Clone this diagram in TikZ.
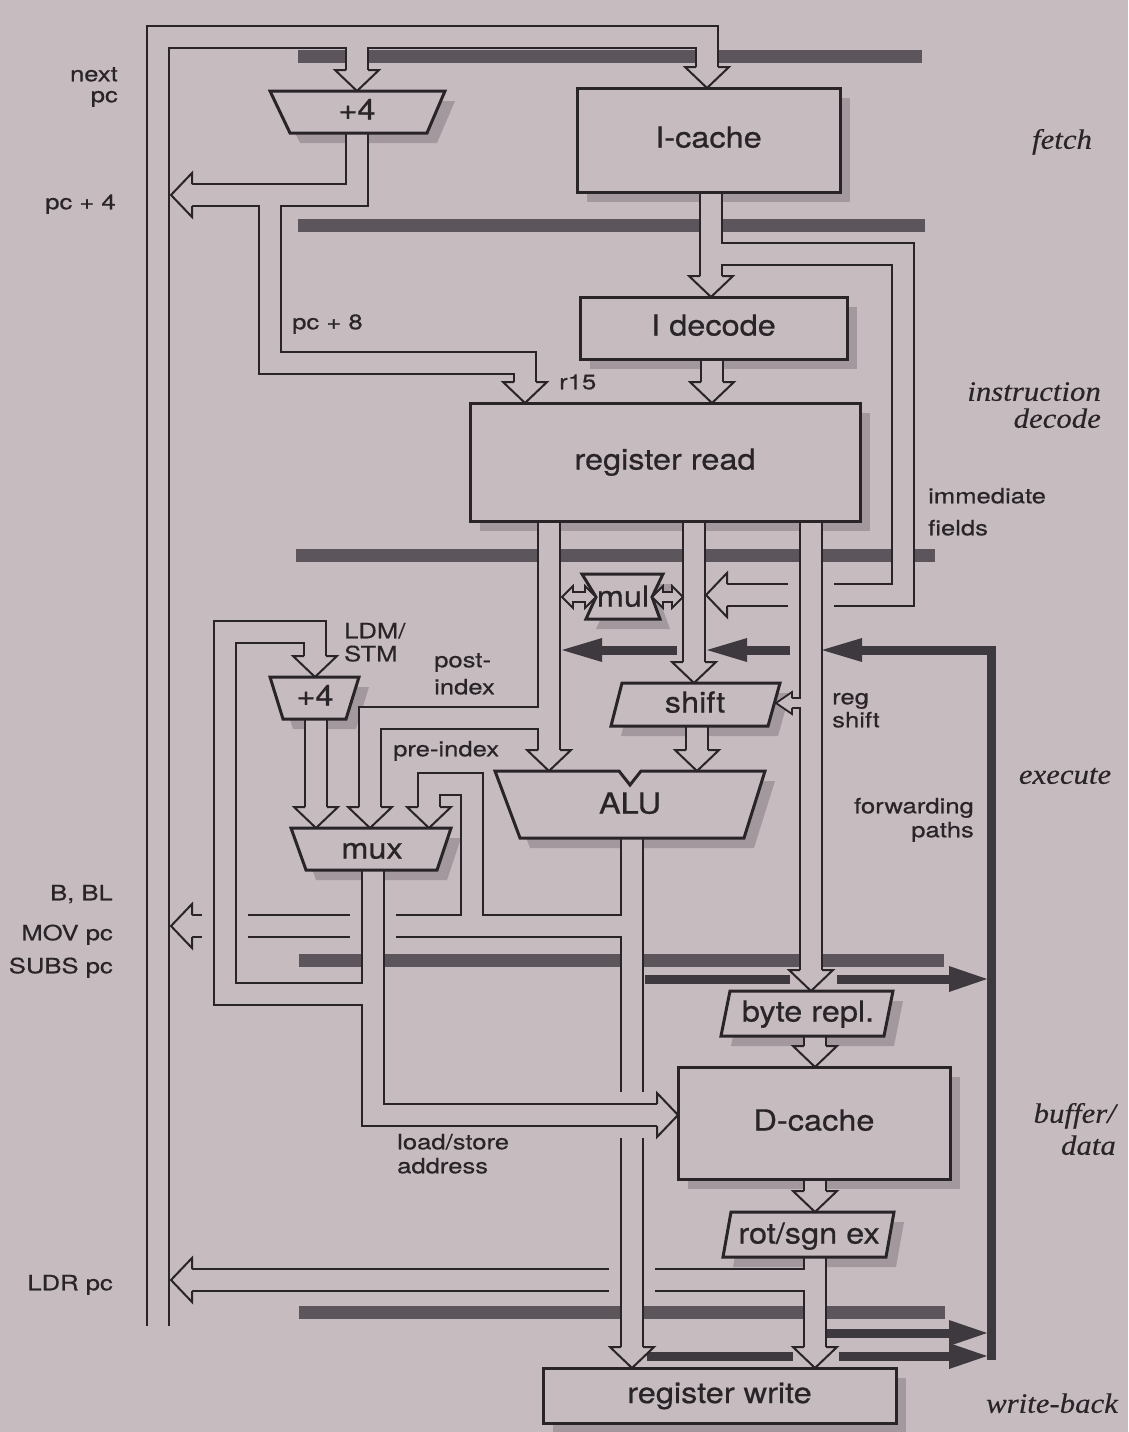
\documentclass[tikz,border=0pt]{standalone}
\usepackage{fontspec}
\newfontfamily\labfam{TeX Gyre Heros}[FakeStretch=1.22,FakeBold=0.5]
\newfontfamily\boxfam{TeX Gyre Heros}[FakeStretch=1.12,FakeBold=0.6]
\newfontfamily\stagefam{Liberation Serif}[FakeStretch=1.1,FakeBold=0.3]
\definecolor{paper}{RGB}{198,188,192}
\definecolor{ink}{RGB}{40,36,40}
\definecolor{barc}{RGB}{92,86,92}
\definecolor{fwd}{RGB}{62,57,62}
\definecolor{shadc}{RGB}{162,152,158}
\pgfdeclarelayer{back}
\pgfdeclarelayer{shad}
\pgfdeclarelayer{buses}
\pgfsetlayers{back,shad,buses,main}
\tikzset{
 busO/.style={draw=ink, line width=24pt, line join=miter, line cap=butt},
 busI/.style={draw=paper, line width=20pt, line join=miter, line cap=butt},
 halo/.style={draw=paper, line width=46pt},
 head/.style={fill=paper, draw=ink, line width=2pt, line join=miter},
 shp/.style={fill=paper, draw=ink, line width=3pt, line join=miter},
 boxtxt/.style={inner sep=0pt, font=\boxfam\fontsize{29}{30}\selectfont, text=ink, text height=21pt, text depth=6pt},
 box/.style={shp, rectangle, boxtxt},
 lab/.style={inner sep=0pt, font=\labfam\fontsize{21}{22}\selectfont, text=ink, text height=15pt, text depth=4.5pt},
 stage/.style={inner sep=0pt, font=\stagefam\itshape\fontsize{28}{28}\selectfont, text=ink, text height=19pt, text depth=5.5pt},
 pbar/.style={draw=barc, line width=13pt},
 fw/.style={draw=fwd, line width=9pt, line join=miter},
}
\newcommand\mybus[1]{\draw[busO] #1; \draw[busI] #1;}
\newcommand\headD[2]{\filldraw[head, shift={(#1,#2)}] (-11,-21) -- (-22,-21) -- (0,0) -- (22,-21) -- (11,-21);}
\newcommand\headL[2]{\filldraw[head, shift={(#1,#2)}] (21,-11) -- (21,-22) -- (0,0) -- (21,22) -- (21,11);}
\newcommand\headR[2]{\filldraw[head, shift={(#1,#2)}] (-21,-11) -- (-21,-22) -- (0,0) -- (-21,22) -- (-21,11);}
\newcommand\fwL[2]{\fill[fwd, shift={(#1,#2)}] (0,0) -- (40,-12) -- (40,12) -- cycle;}
\newcommand\fwR[2]{\fill[fwd, shift={(#1,#2)}] (0,0) -- (-38,-13) -- (-38,13) -- cycle;}
\newcommand\myrbox[6]{%
 \begin{pgfonlayer}{shad}\fill[shadc] (#2+10,#3+10) rectangle (#4+10,#5+10);\end{pgfonlayer}
 \node[box, minimum width={#4-#2}, minimum height={#5-#3}] (#1) at ({(#2+#4)/2},{(#3+#5)/2}) {#6};}
\newcommand\mypoly[5]{%
 \begin{pgfonlayer}{shad}\fill[shadc, shift={(10,10)}] #5 -- cycle;\end{pgfonlayer}
 \filldraw[shp] #5 -- cycle;
 \node[boxtxt] (#1) at (#2,#3) {#4};}
\begin{document}
\begin{tikzpicture}[x=1pt,y=-1pt]
\useasboundingbox (0,0) rectangle (1128,1432);
\begin{pgfonlayer}{back}
\fill[paper] (0,0) rectangle (1128,1432);
% pipeline registers
\draw[pbar] (298,56) -- (922,56);
\draw[pbar] (298,225) -- (925,225);
\draw[pbar] (296,555) -- (935,555);
\draw[pbar] (299,960) -- (944,960);
\draw[pbar] (299,1312) -- (945,1312);
% forwarding paths
\draw[fw] (991,1360) -- (991,650) -- (861,650);
\fwL{822}{650}
\draw[fw] (790,650) -- (746,650); \fwL{707}{650}
\draw[fw] (677,650) -- (601,650); \fwL{562}{650}
\draw[fw] (645,979) -- (790,979); \draw[fw] (837,979) -- (950,979); \fwR{987}{979}
\draw[fw] (827,1333) -- (950,1333); \fwR{987}{1333}
\draw[fw] (647,1356) -- (793,1356); \draw[fw] (839,1356) -- (950,1356); \fwR{987}{1356}
\end{pgfonlayer}

\begin{pgfonlayer}{buses}
% next pc
\mybus{(158,1326) -- (158,37) -- (707,37) -- (707,67) (357,37) -- (357,70)}
% pc+4 / pc+8
\mybus{(357,130) -- (357,195) -- (192,195) (270,195) -- (270,363) -- (525,363) -- (525,382)}
% I-cache out, immediate fields
\mybus{(711,190) -- (711,276) (711,254) -- (903,254) -- (903,595) -- (727,595)}
% I decode out
\mybus{(712,357) -- (712,382)}
% register read left + post-index
\mybus{(549,519) -- (549,750) (549,718) -- (370,718) -- (370,807)}
% register read middle
\mybus{(694,519) -- (694,662)}
% register read right + reg shift
\draw[halo] (811,578) -- (811,612);
\draw[busO] (811,519) -- (811,970);
\draw[draw=ink, line width=12pt] (811,703) -- (791,703);
\draw[busI] (811,519) -- (811,970);
\draw[draw=paper, line width=8pt] (811,703) -- (791,703);
% shift out
\mybus{(697,724) -- (697,750)}
% rot/sgn out + LDR pc
\mybus{(815,1255) -- (815,1347) (815,1280) -- (192,1280)}
% ALU out
\draw[halo] (632,1262) -- (632,1298);
\mybus{(632,836) -- (632,1347) (632,926) -- (192,926) (472,926) -- (472,784) -- (429,784) -- (429,807)}
% mux out + address loop
\draw[halo] (373,908) -- (373,944);
\draw[halo] (225,908) -- (225,944);
\draw[halo] (608,1115) -- (656,1115);
\mybus{(373,868) -- (373,1115) -- (657,1115) (373,994) -- (225,994) -- (225,632) -- (315,632) -- (315,656)}
% +4 (LDM) out
\mybus{(316,717) -- (316,807)}
% byte repl out, D-cache out
\mybus{(815,1034) -- (815,1046)}
\mybus{(815,1177) -- (815,1191)}
\end{pgfonlayer}

% units
\mypoly{incA}{357}{112}{+4}{(270,91) -- (445,91) -- (427,133) -- (290,133)}
\myrbox{icache}{577}{88}{840}{192}{I-cache}
\myrbox{idecode}{580}{297}{847}{359}{I decode}
\myrbox{regread}{470}{403}{860}{521}{register read}
\mypoly{mul}{623}{599}{mul}{(582,574) -- (663,574) -- (652,597) -- (660,619) -- (586,619) -- (596,597)}
\mypoly{shift}{695}{705}{shift}{(622,683) -- (780,683) -- (768,726) -- (611,726)}
\mypoly{alu}{630}{806}{ALU}{(495,771) -- (619,771) -- (630,785) -- (641,771) -- (765,771) -- (744,838) -- (520,838)}
\mypoly{incB}{315}{698}{+4}{(270,677) -- (359,677) -- (346,719) -- (283,719)}
\mypoly{mux}{372}{851}{mux}{(291,828) -- (451,828) -- (437,870) -- (306,870)}
\mypoly{byterepl}{808}{1014}{byte repl.}{(730,991) -- (893,991) -- (884,1036) -- (721,1036)}
\myrbox{dcache}{678}{1067}{950}{1179}{D-cache}
\mypoly{rotsgn}{809}{1236}{rot/sgn ex}{(731,1212) -- (894,1212) -- (886,1257) -- (723,1257)}
\myrbox{regwrite}{543}{1368}{896}{1423}{register write}

% arrow heads
\headD{707}{88} \headD{357}{91}
\headL{171}{195} \headD{525}{403}
\headD{711}{297} \headL{706}{595}
\headD{712}{403}
\headD{549}{771} \headD{370}{828}
\headD{694}{683}
\headD{811}{991}
\filldraw[head, line width=1.8pt] (792,698) -- (792,692) -- (776,703) -- (792,714) -- (792,708);
\headD{697}{771}
\headD{815}{1368} \headL{171}{1280}
\headD{632}{1368} \headL{171}{926} \headD{429}{828}
\headR{678}{1115} \headD{315}{677}
\headD{316}{828}
\headD{815}{1067}
\headD{815}{1212}
% mul double arrows
\filldraw[head, line width=1.8pt] (562,597) -- (573,586) -- (573,592) -- (585,592) -- (585,586) -- (596,597) -- (585,608) -- (585,602) -- (573,602) -- (573,608) -- cycle;
\filldraw[head, line width=1.8pt] (652,597) -- (663,586) -- (663,592) -- (672,592) -- (672,586) -- (683,597) -- (672,608) -- (672,602) -- (663,602) -- (663,608) -- cycle;

% labels
\node[lab, anchor=east] (lnext) at (118,76) {next};
\node[lab, anchor=east] (lpc) at (118,97) {pc};
\node[lab, anchor=east] (lpc4) at (116,204) {pc + 4};
\node[lab, anchor=west] (lpc8) at (292,324) {pc + 8};
\node[lab, anchor=west] (lr15) at (559,384) {r15};
\node[lab, anchor=west] (limm) at (928,498) {immediate};
\node[lab, anchor=west] (lfld) at (928,530) {fields};
\node[lab, anchor=west] (lldm) at (344,633) {LDM/};
\node[lab, anchor=west] (lstm) at (344,656) {STM};
\node[lab, anchor=west] (lpost) at (434,662) {post-};
\node[lab, anchor=west] (lindex) at (434,689) {index};
\node[lab, anchor=west] (lreg) at (832,699) {reg};
\node[lab, anchor=west] (lsh) at (832,722) {shift};
\node[lab, anchor=west] (lpre) at (393,751) {pre-index};
\node[lab, anchor=east] (lfwd) at (974,808) {forwarding};
\node[lab, anchor=east] (lpaths) at (974,832) {paths};
\node[lab, anchor=east] (lb) at (113,895) {B, BL};
\node[lab, anchor=east] (lmov) at (113,935) {MOV pc};
\node[lab, anchor=east] (lsubs) at (113,968) {SUBS pc};
\node[lab, anchor=west] (lls) at (397,1144) {load/store};
\node[lab, anchor=west] (laddr) at (397,1168) {address};
\node[lab, anchor=east] (lldr) at (113,1285) {LDR pc};
% stages
\node[stage] (sfetch) at (1062,142) {fetch};
\node[stage, anchor=east] (sinstr) at (1101,394) {instruction};
\node[stage, anchor=east] (sdec) at (1101,421) {decode};
\node[stage] (sexec) at (1065,777) {execute};
\node[stage, anchor=east] (sbuf) at (1116,1116) {buffer/};
\node[stage, anchor=east] (sdata) at (1116,1148) {data};
\node[stage] (swb) at (1052,1406) {write-back};
\end{tikzpicture}
\end{document}
